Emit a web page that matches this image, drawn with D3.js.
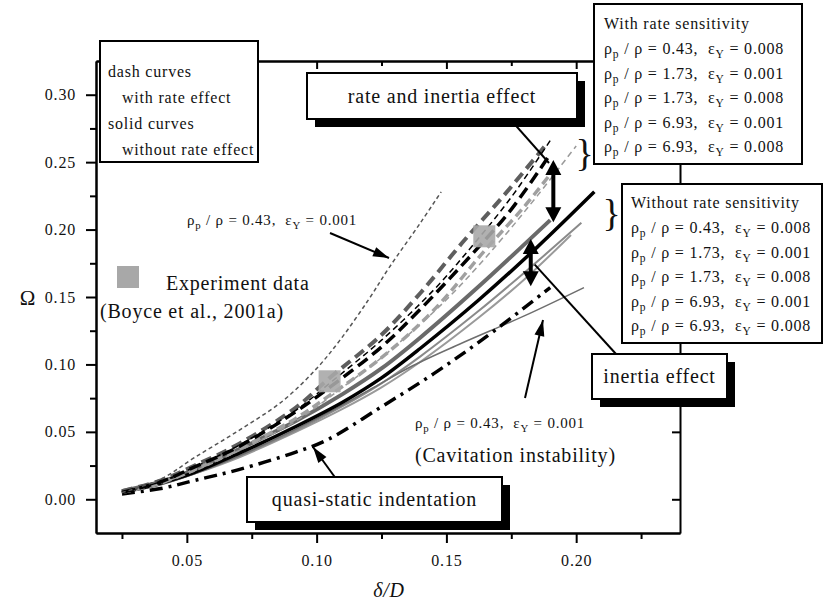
<!DOCTYPE html>
<html lang="en">
<head>
<meta charset="utf-8">
<title>Omega vs delta/D</title>
<script src="https://cdn.jsdelivr.net/npm/d3@7"></script>
<style>
  body { margin: 0; background: #fff; }
  text { font-family: "Liberation Serif", "Times New Roman", serif; fill: #111; letter-spacing: 0.8px; }
  .axis path, .axis line { stroke: #000; stroke-width: 2; }
  .axis text { font-size: 16px; font-family: "Liberation Serif", serif; }
</style>
</head>
<body>
<script>
var width = 826, height = 605;

// ticks
var xMajor = [0.05, 0.10, 0.15, 0.20];
var xMinor = [0.025, 0.075, 0.125, 0.175, 0.225];
var yMajor = [0.00, 0.05, 0.10, 0.15, 0.20, 0.25, 0.30];
var yMinor = [0.025, 0.075, 0.125, 0.175, 0.225, 0.275];

// dashed curves : with rate effect
var dashGrayDark  = [[0.025,0.006],[0.04,0.014],[0.053,0.025],[0.07,0.041],[0.092,0.068],[0.105,0.090],[0.125,0.122],[0.14,0.153],[0.156,0.190],[0.172,0.225],[0.188,0.262]];
var dashBlack     = [[0.025,0.005],[0.04,0.013],[0.053,0.024],[0.07,0.039],[0.092,0.065],[0.105,0.083],[0.125,0.113],[0.14,0.141],[0.16,0.182],[0.175,0.215],[0.19,0.256]];
var dashBlackThin = [[0.025,0.005],[0.04,0.013],[0.053,0.024],[0.07,0.040],[0.092,0.066],[0.105,0.086],[0.125,0.118],[0.145,0.155],[0.16,0.188],[0.175,0.224],[0.19,0.266]];
var dashGrayLight = [[0.025,0.005],[0.04,0.012],[0.053,0.022],[0.07,0.037],[0.092,0.060],[0.105,0.077],[0.125,0.105],[0.145,0.140],[0.165,0.185],[0.18,0.217],[0.19,0.241]];
var dashGrayThin  = [[0.025,0.005],[0.04,0.012],[0.053,0.021],[0.07,0.036],[0.092,0.058],[0.11,0.083],[0.125,0.105],[0.15,0.148],[0.17,0.190],[0.185,0.225],[0.20,0.262]];
// rho_p/rho = 0.43, eps_Y = 0.001 with rate
var dashLowYield  = [[0.025,0.005],[0.04,0.015],[0.053,0.031],[0.07,0.051],[0.087,0.073],[0.10,0.097],[0.109,0.118],[0.12,0.148],[0.128,0.172],[0.14,0.205],[0.148,0.228]];

// solid curves : without rate effect
var solidBlack      = [[0.025,0.005],[0.04,0.012],[0.053,0.020],[0.07,0.034],[0.092,0.054],[0.11,0.072],[0.125,0.090],[0.14,0.112],[0.162,0.147],[0.185,0.187],[0.207,0.228]];
var solidGrayDark   = [[0.025,0.006],[0.04,0.013],[0.053,0.022],[0.07,0.037],[0.092,0.058],[0.11,0.078],[0.125,0.097],[0.14,0.120],[0.162,0.157],[0.19,0.207]];
var solidGrayLight1 = [[0.025,0.005],[0.04,0.011],[0.053,0.019],[0.07,0.032],[0.092,0.051],[0.11,0.069],[0.125,0.086],[0.14,0.106],[0.162,0.139],[0.18,0.168],[0.202,0.205]];
var solidGrayLight2 = [[0.025,0.005],[0.04,0.011],[0.053,0.019],[0.07,0.031],[0.092,0.050],[0.11,0.067],[0.125,0.083],[0.14,0.102],[0.162,0.134],[0.18,0.163],[0.198,0.196]];
var solidCavitation = [[0.025,0.005],[0.04,0.011],[0.053,0.019],[0.07,0.032],[0.092,0.052],[0.11,0.070],[0.122,0.083],[0.137,0.099],[0.155,0.115],[0.18,0.136],[0.203,0.157]];

// quasi-static indentation
var quasiStatic = [[0.025,0.004],[0.04,0.008],[0.053,0.014],[0.07,0.022],[0.092,0.035],[0.104,0.044],[0.1245,0.068],[0.145,0.093],[0.165,0.120],[0.19,0.157]];

// experiment data (Boyce et al., 2001a)
var experiment = [[0.105,0.0875],[0.1646,0.195]];

// legend rows
var rateRows   = [["0.43","0.008"],["1.73","0.001"],["1.73","0.008"],["6.93","0.001"],["6.93","0.008"]];
var noRateRows = [["0.43","0.008"],["1.73","0.001"],["1.73","0.008"],["6.93","0.001"],["6.93","0.008"]];

// effect arrows: [x, yTop, yBottom]
var rateInertiaArrow = [0.1912, 0.2515, 0.2055];
var inertiaArrow = [0.1825, 0.193, 0.158];

var svg = d3.select("body").append("svg")
    .attr("width", width)
    .attr("height", height);

var x = d3.scaleLinear().domain([0.015, 0.24]).range([96, 680]);
var y = d3.scaleLinear().domain([-0.025, 0.325]).range([533, 61]);

// axes
svg.append("g").attr("class", "axis").attr("transform", "translate(0," + y(-0.025) + ")")
    .call(d3.axisBottom(x).tickValues(xMajor).tickSize(10).tickSizeOuter(0).tickPadding(12).tickFormat(d3.format(".2f")));
svg.append("g").attr("class", "axis").attr("transform", "translate(0," + y(-0.025) + ")")
    .call(d3.axisBottom(x).tickValues(xMinor).tickSize(6).tickSizeOuter(0).tickFormat(""));
svg.append("g").attr("class", "axis").attr("transform", "translate(0," + y(0.325) + ")")
    .call(d3.axisTop(x).tickValues(xMajor).tickSize(-8).tickSizeOuter(0).tickFormat(""));
svg.append("g").attr("class", "axis").attr("transform", "translate(0," + y(0.325) + ")")
    .call(d3.axisTop(x).tickValues(xMinor).tickSize(-5).tickSizeOuter(0).tickFormat(""));
svg.append("g").attr("class", "axis").attr("transform", "translate(" + x(0.015) + ",0)")
    .call(d3.axisLeft(y).tickValues(yMajor).tickSize(10).tickSizeOuter(0).tickPadding(10).tickFormat(d3.format(".2f")));
svg.append("g").attr("class", "axis").attr("transform", "translate(" + x(0.015) + ",0)")
    .call(d3.axisLeft(y).tickValues(yMinor).tickSize(6).tickSizeOuter(0).tickFormat(""));
svg.append("g").attr("class", "axis").attr("transform", "translate(" + x(0.24) + ",0)")
    .call(d3.axisRight(y).tickValues(yMajor).tickSize(-8).tickSizeOuter(0).tickFormat(""));

svg.append("text").attr("x", 28).attr("y", 305).attr("text-anchor", "middle")
    .style("font-size", "21px").text("Ω");
svg.append("text").attr("x", 389).attr("y", 597).attr("text-anchor", "middle")
    .style("font-size", "20px").style("font-style", "italic").text("δ/D");

// curves
var line = d3.line()
    .x(function(d){ return x(d[0]); })
    .y(function(d){ return y(d[1]); })
    .curve(d3.curveCatmullRom.alpha(0.5));

var curves = [
  {data: solidGrayLight2, stroke: "#9a9a9a", w: 2,   dash: null},
  {data: solidGrayLight1, stroke: "#8a8a8a", w: 2,   dash: null},
  {data: solidCavitation, stroke: "#6e6e6e", w: 1.5, dash: null},
  {data: solidGrayDark,   stroke: "#6a6a6a", w: 4,   dash: null},
  {data: solidBlack,      stroke: "#000",    w: 3.5, dash: null},
  {data: quasiStatic,     stroke: "#000",    w: 3.5, dash: "13,6,3,6"},
  {data: dashGrayThin,    stroke: "#9a9a9a", w: 1.5, dash: "6,4"},
  {data: dashGrayLight,   stroke: "#a0a0a0", w: 3.5, dash: "9,5"},
  {data: dashGrayDark,    stroke: "#5e5e5e", w: 4,   dash: "11,6"},
  {data: dashBlack,       stroke: "#000",    w: 3.5, dash: "12,6"},
  {data: dashBlackThin,   stroke: "#000",    w: 1.5, dash: "6,4"},
  {data: dashLowYield,    stroke: "#555",    w: 1.5, dash: "4,3"}
];

svg.selectAll(".curve")
    .data(curves)
    .enter()
    .append("path")
    .attr("class", "curve")
    .attr("d", function(d){ return line(d.data); })
    .attr("fill", "none")
    .attr("stroke", function(d){ return d.stroke; })
    .attr("stroke-width", function(d){ return d.w; })
    .attr("stroke-dasharray", function(d){ return d.dash; });

// experiment squares
svg.selectAll(".exp")
    .data(experiment)
    .enter()
    .append("rect")
    .attr("class", "exp")
    .attr("x", function(d){ return x(d[0]) - 11; })
    .attr("y", function(d){ return y(d[1]) - 11; })
    .attr("width", 22).attr("height", 22)
    .attr("fill", "#a8a8a8").attr("opacity", 0.9);

// arrow helpers
function arrowHead(x1, y1, x2, y2, len, half) {
  var a = Math.atan2(y2 - y1, x2 - x1);
  var bx = x2 - len * Math.cos(a), by = y2 - len * Math.sin(a);
  var px = -Math.sin(a) * half, py = Math.cos(a) * half;
  svg.append("path")
    .attr("d", "M" + x2 + "," + y2 + "L" + (bx + px) + "," + (by + py) + "L" + (bx - px) + "," + (by - py) + "Z")
    .attr("fill", "#000");
}
function pointer(x1, y1, x2, y2, head) {
  svg.append("line").attr("x1", x1).attr("y1", y1).attr("x2", x2).attr("y2", y2)
    .attr("stroke", "#000").attr("stroke-width", 2);
  if (head) arrowHead(x1, y1, x2, y2, 16, 5);
}
function doubleArrow(a) {
  var xp = x(a[0]), y1 = y(a[1]), y2 = y(a[2]);
  svg.append("line").attr("x1", xp).attr("y1", y1 + 10).attr("x2", xp).attr("y2", y2 - 10)
    .attr("stroke", "#000").attr("stroke-width", 4);
  arrowHead(xp, y2, xp, y1, 15, 8);
  arrowHead(xp, y1, xp, y2, 15, 8);
}

doubleArrow(rateInertiaArrow);
doubleArrow(inertiaArrow);

pointer(502, 110, 549, 163, false);
pointer(626, 365, x(inertiaArrow[0]) + 4, y((inertiaArrow[1] + inertiaArrow[2]) / 2) + 2, false);
pointer(330, 233, 389, 258, true);
pointer(342, 487, 313, 447, true);
pointer(525, 398, 543, 320, true);

// text helpers
function rhoText(g, x0, y0, ratio, eps, fs) {
  var t = g.append("text").attr("x", x0).attr("y", y0)
      .style("font-size", fs + "px").style("white-space", "pre");
  t.append("tspan").text("ρ");
  t.append("tspan").attr("dy", 4).style("font-size", (fs * 0.72) + "px").text("p");
  t.append("tspan").attr("dy", -4).text(" / ρ = " + ratio + ",  ε");
  t.append("tspan").attr("dy", 4).style("font-size", (fs * 0.72) + "px").text("Y");
  t.append("tspan").attr("dy", -4).text(" = " + eps);
}
function shadowBox(x0, y0, w, h, label, fs) {
  svg.append("rect").attr("x", x0 + 8).attr("y", y0 + 8).attr("width", w).attr("height", h).attr("fill", "#000");
  svg.append("rect").attr("x", x0).attr("y", y0).attr("width", w).attr("height", h)
    .attr("fill", "#fff").attr("stroke", "#000").attr("stroke-width", 2);
  svg.append("text").attr("x", x0 + w / 2).attr("y", y0 + h / 2 + fs * 0.33)
    .attr("text-anchor", "middle").style("font-size", fs + "px").text(label);
}
function plainBox(x0, y0, w, h) {
  svg.append("rect").attr("x", x0).attr("y", y0).attr("width", w).attr("height", h)
    .attr("fill", "#fff").attr("stroke", "#000").attr("stroke-width", 2);
}

// top-left legend
plainBox(100, 41, 158, 121);
var legendLines = [["dash curves", 108, 77], ["with rate effect", 122, 103], ["solid curves", 108, 129], ["without rate effect", 122, 155]];
legendLines.forEach(function(l){
  svg.append("text").attr("x", l[1]).attr("y", l[2]).style("font-size", "16px").text(l[0]);
});

// with rate sensitivity box
plainBox(594, 4, 208, 160);
svg.append("text").attr("x", 604).attr("y", 29).style("font-size", "16px").text("With rate sensitivity");
rateRows.forEach(function(r, i){ rhoText(svg, 604, 54 + i * 24.5, r[0], r[1], 16); });

// without rate sensitivity box
plainBox(622, 184, 200, 159);
svg.append("text").attr("x", 631).attr("y", 208).style("font-size", "16px").text("Without rate sensitivity");
noRateRows.forEach(function(r, i){ rhoText(svg, 631, 233 + i * 24.5, r[0], r[1], 16); });

// braces
svg.append("text").attr("x", 585).attr("y", 166).attr("text-anchor", "middle").style("font-size", "38px").text("}");
svg.append("text").attr("x", 612).attr("y", 226).attr("text-anchor", "middle").style("font-size", "38px").text("}");

// effect boxes
shadowBox(307, 73, 270, 46, "rate and inertia effect", 20);
shadowBox(592, 354, 135, 45, "inertia effect", 20);
shadowBox(247, 477, 255, 45, "quasi-static indentation", 20);

// free labels
rhoText(svg, 187, 225, "0.43", "0.001", 15);
rhoText(svg, 415, 428, "0.43", "0.001", 15);
svg.append("text").attr("x", 415).attr("y", 462).style("font-size", "20px").text("(Cavitation instability)");

svg.append("rect").attr("x", 117).attr("y", 266).attr("width", 22).attr("height", 22).attr("fill", "#a8a8a8");
svg.append("text").attr("x", 166).attr("y", 290).style("font-size", "20px").text("Experiment data");
svg.append("text").attr("x", 100).attr("y", 318).style("font-size", "20px").text("(Boyce et al., 2001a)");
</script>
</body>
</html>
